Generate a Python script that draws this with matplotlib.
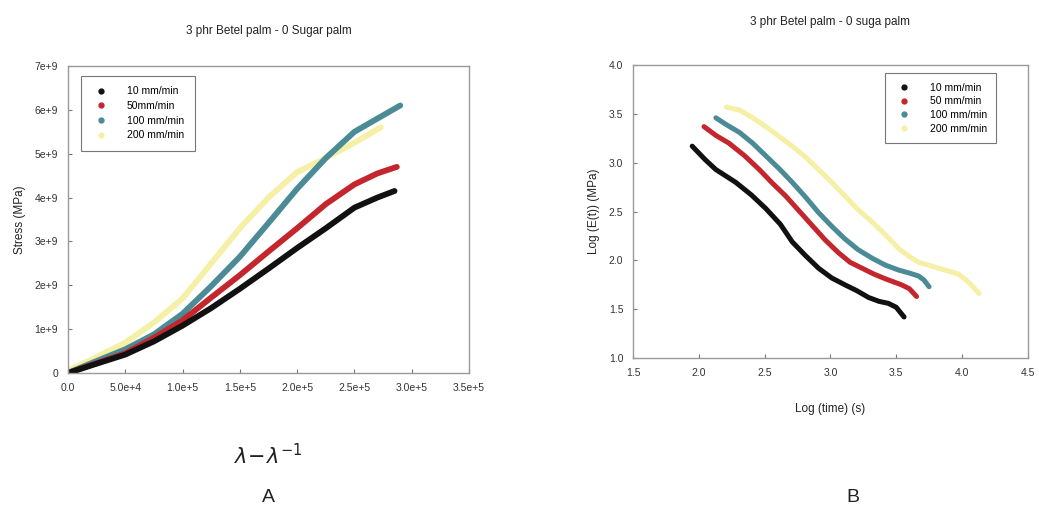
import matplotlib
matplotlib.use("Agg")
import matplotlib.pyplot as plt
from matplotlib.lines import Line2D

# ---- Panel A: stress vs. lambda - 1/lambda ----
labels_a = ["10 mm/min", "50mm/min", "100 mm/min", "200 mm/min"]
strain_10 = [0, 2.0e4, 5.0e4, 7.5e4, 1.0e5, 1.25e5, 1.5e5, 1.75e5, 2.0e5, 2.25e5, 2.5e5, 2.7e5, 2.85e5]
stress_10 = [0, 0.17e9, 0.42e9, 0.72e9, 1.08e9, 1.48e9, 1.92e9, 2.38e9, 2.85e9, 3.30e9, 3.77e9, 4.00e9, 4.15e9]
strain_50 = [0, 2.0e4, 5.0e4, 7.5e4, 1.0e5, 1.25e5, 1.5e5, 1.75e5, 2.0e5, 2.25e5, 2.5e5, 2.7e5, 2.87e5]
stress_50 = [0, 0.18e9, 0.45e9, 0.80e9, 1.20e9, 1.72e9, 2.23e9, 2.77e9, 3.30e9, 3.85e9, 4.30e9, 4.55e9, 4.70e9]
strain_100 = [0, 2.0e4, 5.0e4, 7.5e4, 1.0e5, 1.25e5, 1.5e5, 1.75e5, 2.0e5, 2.25e5, 2.5e5, 2.7e5, 2.9e5]
stress_100 = [0, 0.22e9, 0.54e9, 0.88e9, 1.35e9, 1.98e9, 2.65e9, 3.42e9, 4.20e9, 4.90e9, 5.50e9, 5.80e9, 6.10e9]
strain_200 = [0, 2.0e4, 5.0e4, 7.5e4, 1.0e5, 1.25e5, 1.5e5, 1.75e5, 2.0e5, 2.25e5, 2.5e5, 2.73e5]
stress_200 = [0.05e9, 0.30e9, 0.69e9, 1.15e9, 1.70e9, 2.50e9, 3.30e9, 4.00e9, 4.58e9, 4.90e9, 5.25e9, 5.60e9]

xticks_a = [0, 5e4, 1e5, 1.5e5, 2e5, 2.5e5, 3e5, 3.5e5]
xticklabels_a = ["0.0", "5.0e+4", "1.0e+5", "1.5e+5", "2.0e+5", "2.5e+5", "3.0e+5", "3.5e+5"]
yticks_a = [0, 1e9, 2e9, 3e9, 4e9, 5e9, 6e9, 7e9]
yticklabels_a = ["0", "1e+9", "2e+9", "3e+9", "4e+9", "5e+9", "6e+9", "7e+9"]

# ---- Panel B: log modulus vs. log time ----
labels_b = ["10 mm/min", "50 mm/min", "100 mm/min", "200 mm/min"]
logt_10 = [1.95, 2.05, 2.13, 2.28, 2.40, 2.51, 2.62, 2.71, 2.81, 2.91, 3.01, 3.11, 3.20, 3.29, 3.37, 3.44, 3.50, 3.56]
loge_10 = [3.17, 3.03, 2.93, 2.80, 2.67, 2.53, 2.37, 2.19, 2.05, 1.92, 1.82, 1.75, 1.69, 1.62, 1.58, 1.56, 1.52, 1.42]
logt_50 = [2.04, 2.13, 2.23, 2.35, 2.46, 2.56, 2.66, 2.76, 2.86, 2.96, 3.06, 3.15, 3.24, 3.33, 3.42, 3.48, 3.54, 3.60, 3.655]
loge_50 = [3.37, 3.28, 3.20, 3.07, 2.93, 2.79, 2.66, 2.51, 2.36, 2.21, 2.08, 1.98, 1.92, 1.86, 1.81, 1.78, 1.75, 1.71, 1.63]
logt_100 = [2.13, 2.21, 2.31, 2.41, 2.51, 2.61, 2.71, 2.81, 2.91, 3.01, 3.11, 3.21, 3.32, 3.42, 3.52, 3.60, 3.67, 3.71, 3.75]
loge_100 = [3.46, 3.39, 3.31, 3.20, 3.07, 2.94, 2.80, 2.65, 2.49, 2.35, 2.22, 2.11, 2.02, 1.95, 1.90, 1.87, 1.84, 1.80, 1.73]
logt_200 = [2.21, 2.31, 2.41, 2.51, 2.61, 2.71, 2.81, 2.91, 3.01, 3.11, 3.21, 3.32, 3.42, 3.52, 3.60, 3.67, 3.75, 3.82, 3.90, 3.97, 4.03, 4.07, 4.13]
loge_200 = [3.57, 3.54, 3.46, 3.37, 3.27, 3.17, 3.06, 2.93, 2.80, 2.66, 2.52, 2.39, 2.26, 2.12, 2.04, 1.98, 1.95, 1.92, 1.89, 1.86, 1.80, 1.75, 1.66]

xticks_b = [1.5, 2.0, 2.5, 3.0, 3.5, 4.0, 4.5]
yticks_b = [1.0, 1.5, 2.0, 2.5, 3.0, 3.5, 4.0]

colors = ["#111111", "#c4262e", "#4a8b96", "#f6f0a6"]

plt.rcParams["font.family"] = ["Liberation Sans", "DejaVu Sans"]

fig = plt.figure(figsize=(10.39, 5.12), dpi=100)
ax_a = fig.add_axes([0.0654, 0.2715, 0.386, 0.5996])
ax_b = fig.add_axes([0.6092, 0.3008, 0.380, 0.572])


def style_axes(ax):
    for s in ax.spines.values():
        s.set_color("#9a9a9a")
        s.set_linewidth(1.0)
    ax.tick_params(direction="in", length=3, width=0.8, color="#777777",
                   labelsize=7.5, labelcolor="#333333", pad=7)


# Panel A curves: thick lines, drawn bottom series last so it stays on top
series_a = [(strain_200, stress_200), (strain_100, stress_100),
            (strain_50, stress_50), (strain_10, stress_10)]
for (x, y), c in zip(series_a, colors[::-1]):
    ax_a.plot(x, y, color=c, lw=4.2, solid_capstyle="round", solid_joinstyle="round")

ax_a.set_xlim(0, 3.5e5)
ax_a.set_ylim(0, 7e9)
ax_a.set_xticks(xticks_a)
ax_a.set_xticklabels(xticklabels_a)
ax_a.set_yticks(yticks_a)
ax_a.set_yticklabels(yticklabels_a)
style_axes(ax_a)
ax_a.set_ylabel("Stress (MPa)", fontsize=8.5, color="#222222", labelpad=6)
ax_a.set_title("3 phr Betel palm - 0 Sugar palm", fontsize=8.5, color="#222222", pad=23)
ax_a.set_xlabel(r"$\lambda\!-\!\lambda^{-1}$", fontsize=15, color="#222222", labelpad=36)

handles_a = [Line2D([], [], ls="none", marker="o", ms=3.5, color=c) for c in colors]
leg_a = ax_a.legend(handles_a, labels_a, loc="upper left", bbox_to_anchor=(0.02, 0.985),
                    fontsize=7.5, frameon=True, fancybox=False, edgecolor="#555555",
                    handletextpad=1.6, borderpad=1.0, labelspacing=0.45, handlelength=1.8)
leg_a.get_frame().set_linewidth(0.8)

# Panel B curves
series_b = [(logt_10, loge_10), (logt_50, loge_50), (logt_100, loge_100), (logt_200, loge_200)]
for (x, y), c in zip(series_b, colors):
    ax_b.plot(x, y, color=c, lw=3.6, solid_capstyle="round", solid_joinstyle="round")

ax_b.set_xlim(1.5, 4.5)
ax_b.set_ylim(1.0, 4.0)
ax_b.set_xticks(xticks_b)
ax_b.set_xticklabels([f"{v:.1f}" for v in xticks_b])
ax_b.set_yticks(yticks_b)
ax_b.set_yticklabels([f"{v:.1f}" for v in yticks_b])
style_axes(ax_b)
ax_b.set_ylabel("Log (E(t)) (MPa)", fontsize=8.5, color="#222222", labelpad=6)
ax_b.set_xlabel("Log (time) (s)", fontsize=8.5, color="#222222", labelpad=18)
ax_b.set_title("3 phr Betel palm - 0 suga palm", fontsize=8.5, color="#222222", pad=29)

handles_b = [Line2D([], [], ls="none", marker="o", ms=3.5, color=c) for c in colors]
leg_b = ax_b.legend(handles_b, labels_b, loc="upper left", bbox_to_anchor=(0.625, 0.99),
                    fontsize=7.5, frameon=True, fancybox=False, edgecolor="#555555",
                    handletextpad=1.6, borderpad=0.9, labelspacing=0.35, handlelength=1.8)
leg_b.get_frame().set_linewidth(0.8)

# Panel letters
fig.text(0.258, 0.012, "A", fontsize=14, color="#222222", ha="center", va="bottom")
fig.text(0.821, 0.012, "B", fontsize=14, color="#222222", ha="center", va="bottom")

fig.savefig("out.png", dpi=100)
